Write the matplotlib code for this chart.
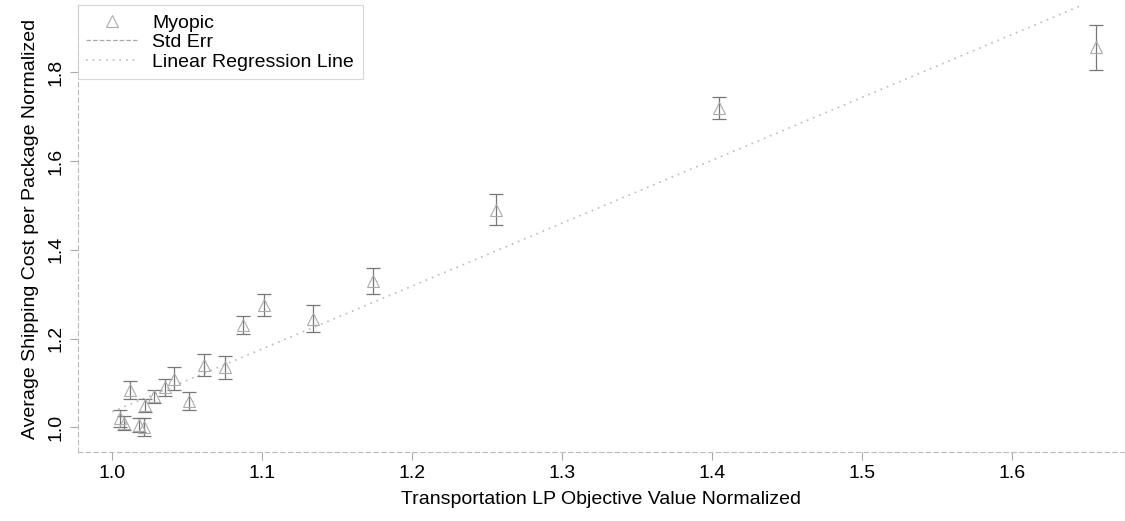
import numpy as np
import matplotlib
matplotlib.use("Agg")
import matplotlib.pyplot as plt

plt.rcParams['font.family'] = ['Liberation Sans', 'DejaVu Sans']

# Myopic points: LP objective (normalized) vs avg shipping cost (normalized)
lp_obj = [1.005, 1.008, 1.012, 1.018, 1.021, 1.022, 1.028, 1.035, 1.041, 1.051,
          1.061, 1.075, 1.087, 1.101, 1.134, 1.174, 1.256, 1.405, 1.656]
ship_cost = [1.02, 1.01, 1.085, 1.005, 1.00, 1.05, 1.07, 1.09, 1.11, 1.06,
             1.14, 1.135, 1.23, 1.275, 1.245, 1.33, 1.49, 1.72, 1.856]
std_err = [0.02, 0.015, 0.02, 0.015, 0.02, 0.015, 0.015, 0.02, 0.025, 0.02,
           0.025, 0.025, 0.02, 0.025, 0.03, 0.03, 0.035, 0.025, 0.05]

# regression line coefficients
reg_slope = 1.416
reg_icpt = -0.381

fig, ax = plt.subplots(figsize=(11.25, 5.21), dpi=100)
fig.subplots_adjust(left=0.069, right=1.0, bottom=0.132, top=0.99)

xs = np.array([1.0, 1.68])
ax.plot(xs, reg_slope * xs + reg_icpt, linestyle=(0, (1, 3)), color='#bbbbbb',
        lw=1.2, label='Linear Regression Line', zorder=1)
ax.errorbar(lp_obj, ship_cost, yerr=std_err, fmt='none', ecolor='#777777',
            elinewidth=0.9, capsize=5, capthick=0.9, zorder=2)
ax.plot(lp_obj, ship_cost, linestyle='none', marker='^', markersize=9,
        markerfacecolor='none', markeredgecolor='#aaaaaa', markeredgewidth=0.8,
        zorder=3)

# legend handles
h1, = ax.plot([], [], linestyle='none', marker='^', markersize=9,
              markerfacecolor='none', markeredgecolor='#aaaaaa', markeredgewidth=0.8)
h2, = ax.plot([], [], linestyle='--', color='#aaaaaa', lw=0.9)
h3, = ax.plot([], [], linestyle=(0, (1, 3)), color='#bbbbbb', lw=1.2)
leg = ax.legend([h1, h2, h3], ['Myopic', 'Std Err', 'Linear Regression Line'],
                loc='upper left', bbox_to_anchor=(0.0, 1.0), fontsize=14,
                frameon=True, fancybox=False, borderaxespad=0.0,
                handlelength=2.6, labelspacing=0.1, borderpad=0.45)
leg.get_frame().set_edgecolor('#cccccc')
leg.get_frame().set_linewidth(0.8)

ax.set_xlim(0.977, 1.6756)
ax.set_ylim(0.944, 1.951)
ax.set_xticks([1.0, 1.1, 1.2, 1.3, 1.4, 1.5, 1.6])
ax.set_yticks([1.0, 1.2, 1.4, 1.6, 1.8])
ax.set_xticklabels(['1.0', '1.1', '1.2', '1.3', '1.4', '1.5', '1.6'])
ax.set_yticklabels(['1.0', '1.2', '1.4', '1.6', '1.8'], rotation=90, va='center')
ax.tick_params(labelsize=14, color='#aaaaaa', length=6, width=0.8)
ax.set_xlabel('Transportation LP Objective Value Normalized', fontsize=14, labelpad=6)
ax.set_ylabel('Average Shipping Cost per Package Normalized', fontsize=14, labelpad=6)

for side in ['top', 'right']:
    ax.spines[side].set_visible(False)
for side in ['left', 'bottom']:
    ax.spines[side].set_color('#bbbbbb')
    ax.spines[side].set_linestyle((0, (4, 3)))
    ax.spines[side].set_linewidth(0.8)

fig.savefig('out.png')
